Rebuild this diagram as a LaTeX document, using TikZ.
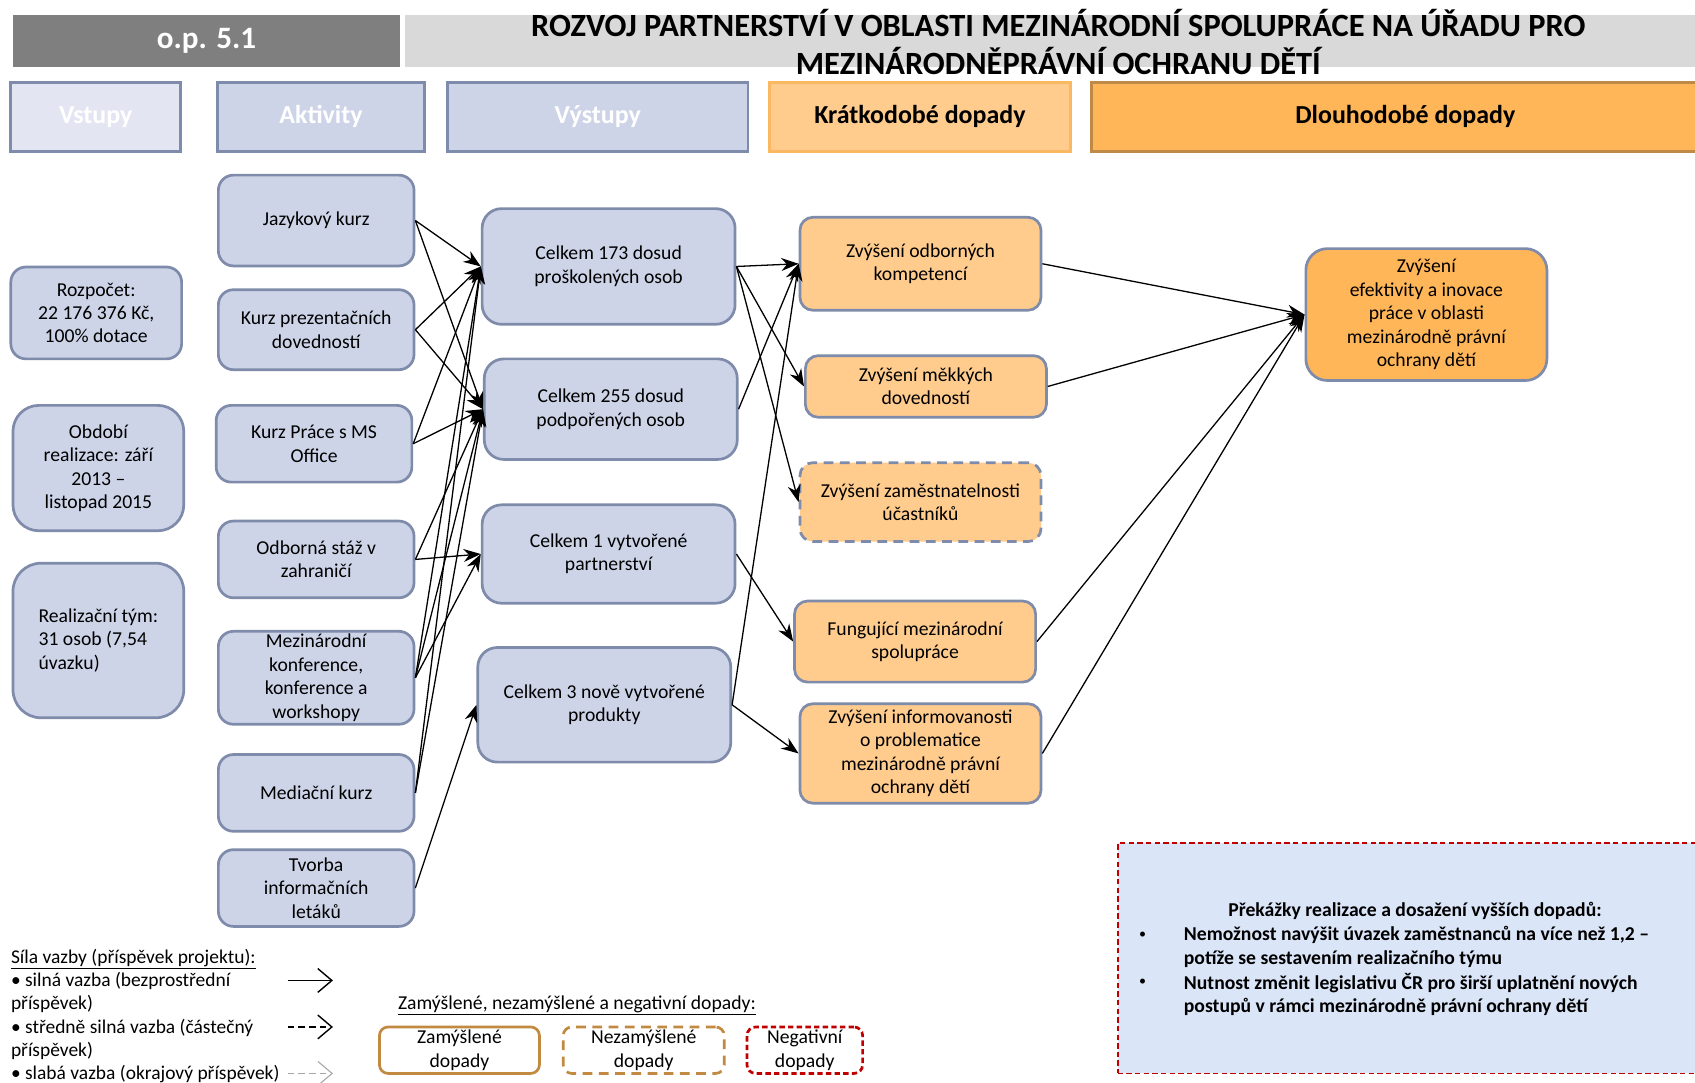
\documentclass[tikz,border=0pt]{standalone}
\usepackage{fontspec}
\setmainfont{Carlito}
\usetikzlibrary{arrows.meta}
\definecolor{lav}{HTML}{CED4E8}
\definecolor{lavlight}{HTML}{E3E6F2}
\definecolor{bordb}{HTML}{7F8BAA}
\definecolor{orl}{HTML}{FFCC8E}
\definecolor{orlb}{HTML}{FBB862}
\definecolor{ord}{HTML}{FFB659}
\definecolor{ordb}{HTML}{BF8A48}
\definecolor{opgray}{HTML}{7F7F7F}
\definecolor{titlegray}{HTML}{D9D9D9}
\definecolor{obfill}{HTML}{DBE5F8}
\definecolor{negred}{HTML}{C00000}
\definecolor{legbrown}{HTML}{C28A40}
\definecolor{weakgray}{HTML}{A6A6A6}
\tikzset{
  txt/.style={font=\fontsize{18.2}{21.7}\selectfont, align=center, inner sep=1pt},
  actbox/.style={txt, draw=bordb, line width=2.5pt, fill=lav, rounded corners=14pt},
  outbox/.style={txt, draw=bordb, line width=2.5pt, fill=lav, rounded corners=18pt},
  stbox/.style={txt, draw=bordb, line width=2.5pt, fill=orl, rounded corners=12pt},
  ltbox/.style={txt, draw=bordb, line width=2.5pt, fill=ord, rounded corners=20pt},
  hdr/.style={font=\fontsize{24}{28}\selectfont\bfseries, line width=2.5pt, inner sep=0pt},
  arr/.style={-{Stealth[length=16pt,width=12pt]}, line width=1.2pt},
  legarr/.style={-{Straight Barb[length=13pt,width=22pt]}, line width=1.3pt},
  legbox/.style={txt, line width=2.5pt, rounded corners=8pt, fill=white},
  obtxt/.style={font=\fontsize{18.2}{22}\selectfont\bfseries, inner sep=0pt, align=left},
  obbul/.style={font=\fontsize{13}{22}\selectfont, inner sep=0pt},
}
\begin{document}
\begin{tikzpicture}[x=1pt,y=-1pt]
\useasboundingbox (0,0) rectangle (1568,1001);
\clip (0,0) rectangle (1568,1001);
\fill[white] (0,0) rectangle (1568,1001);

% top bars
\node[fill=opgray, minimum width=358pt, minimum height=48pt, inner sep=0pt,
      text=white, font=\fontsize{28.8}{32}\selectfont\bfseries] (op) at (191,38) {o.p. 5.1};
\node[fill=titlegray, minimum width=1215pt, minimum height=48pt, inner sep=0pt] (tbar) at (982.5,38) {};
\node[font=\fontsize{30}{35}\selectfont\bfseries, align=center, inner sep=0pt] (title) at (979,38.5)
  {ROZVOJ PARTNERSTVÍ V OBLASTI MEZINÁRODNÍ SPOLUPRÁCE NA ÚŘADU PRO\\MEZINÁRODNĚPRÁVNÍ OCHRANU DĚTÍ};

% column headers
\node[hdr, draw=bordb, fill=lavlight, text=white, minimum width=157pt, minimum height=64pt] (hvst) at (88.5,108) {Vstupy};
\node[hdr, draw=bordb, fill=lav, text=white, minimum width=192pt, minimum height=64pt] (hakt) at (297,108) {Aktivity};
\node[hdr, draw=bordb, fill=lav, text=white, minimum width=278pt, minimum height=64pt] (hvys) at (553,108) {Výstupy};
\node[hdr, draw=orlb, fill=orl, minimum width=278pt, minimum height=64pt] (hkra) at (851,108) {Krátkodobé dopady};
\node[hdr, draw=ordb, fill=ord, minimum width=580pt, minimum height=64pt] (hdlo) at (1300,108) {Dlouhodobé dopady};

% inputs
\node[actbox, minimum width=158pt, minimum height=85pt] (rozp) at (89,289.5) {Rozpočet:\\22 176 376 Kč,\\100\% dotace};
\node[actbox, rounded corners=24pt, minimum width=158pt, minimum height=116pt] (obd) at (91,433) {Období\\realizace: září\\2013 –\\listopad 2015};
\node[actbox, rounded corners=26pt, align=left, minimum width=158pt, minimum height=143pt] (real) at (91,592.5) {Realizační tým:\\31 osob (7,54\\úvazku)};

% activities
\node[actbox, minimum width=181pt, minimum height=84pt] (jaz) at (292.5,204) {Jazykový kurz};
\node[actbox, minimum width=181pt, minimum height=74pt] (prez) at (292.5,305) {Kurz prezentačních\\dovedností};
\node[actbox, minimum width=181pt, minimum height=71pt] (ms) at (290.5,410.5) {Kurz Práce s MS\\Office};
\node[actbox, minimum width=181pt, minimum height=71pt] (staz) at (292.5,517.5) {Odborná stáž v\\zahraničí};
\node[actbox, minimum width=181pt, minimum height=86pt] (konf) at (292.5,627) {Mezinárodní\\konference,\\konference a\\workshopy};
\node[actbox, minimum width=181pt, minimum height=71pt] (med) at (292.5,733.5) {Mediační kurz};
\node[actbox, minimum width=181pt, minimum height=71pt] (tvor) at (292.5,821.5) {Tvorba\\informačních\\letáků};

% outputs
\node[outbox, minimum width=234pt, minimum height=107pt] (o173) at (563,246.5) {Celkem 173 dosud\\proškolených osob};
\node[outbox, minimum width=234pt, minimum height=93pt] (o255) at (565,378.5) {Celkem 255 dosud\\podpořených osob};
\node[outbox, minimum width=234pt, minimum height=91pt] (o1) at (563,512.5) {Celkem 1 vytvořené\\partnerství};
\node[outbox, minimum width=234pt, minimum height=106pt] (o3) at (559,652) {Celkem 3 nově vytvořené\\produkty};

% short-term
\node[stbox, minimum width=223pt, minimum height=86pt] (sodb) at (851.5,244) {Zvýšení odborných\\kompetencí};
\node[stbox, minimum width=223pt, minimum height=57pt] (smek) at (856.5,357.5) {Zvýšení měkkých\\dovedností};
\node[stbox, dashed, dash pattern=on 9pt off 6pt, minimum width=223pt, minimum height=73pt] (szam) at (851.5,464.5) {Zvýšení zaměstnatelnosti\\účastníků};
\node[stbox, minimum width=223pt, minimum height=75pt] (sfun) at (846.5,593.5) {Fungující mezinárodní\\spolupráce};
\node[stbox, minimum width=223pt, minimum height=92pt] (sinf) at (851.5,697) {Zvýšení informovanosti\\o problematice\\mezinárodně právní\\ochrany dětí};

% long-term
\node[ltbox, minimum width=223pt, minimum height=122pt] (lef) at (1319.5,291) {Zvýšení\\efektivity a inovace\\práce v oblasti\\mezinárodně právní\\ochrany dětí};

% arrows activities -> outputs
\foreach \s/\t in {jaz/o173, jaz/o255, prez/o173, prez/o255, ms/o173, ms/o255,
                   staz/o255, staz/o1, konf/o173, konf/o255, konf/o1,
                   med/o173, med/o255, tvor/o3}
  \draw[arr] (\s.east) -- (\t.west);
% outputs -> short-term
\foreach \s/\t in {o173/sodb, o173/smek, o173/szam, o255/sodb, o1/sfun, o3/sodb, o3/sinf}
  \draw[arr] (\s.east) -- (\t.west);
% short-term -> long-term
\foreach \s in {sodb, smek, sfun, sinf}
  \draw[arr] (\s.east) -- (lef.west);

% obstacles box
\node[draw=negred, dashed, dash pattern=on 5pt off 3pt, line width=1.5pt, fill=obfill,
      minimum width=545pt, minimum height=213pt, inner sep=0pt] (obox) at (1306.5,886.5) {};
\node[obtxt, align=center] (obt) at (1309,843) {Překážky realizace a dosažení vyšších dopadů:};
\node[obbul] (ob1b) at (1057,865) {•};
\node[obtxt, anchor=west] (ob1) at (1095,876) {Nemožnost navýšit úvazek zaměstnanců na více než 1,2 –\\potíže se sestavením realizačního týmu};
\node[obbul] (ob2b) at (1057,909) {•};
\node[obtxt, anchor=west] (ob2) at (1095,920) {Nutnost změnit legislativu ČR pro širší uplatnění nových\\postupů v rámci mezinárodně právní ochrany dětí};

% legend: link strength
\node[font=\fontsize{18}{21.6}\selectfont, align=left, inner sep=0pt, anchor=west] (sila) at (10,940)
  {\underline{Síla vazby (příspěvek projektu):}\\• silná vazba (bezprostřední\\příspěvek)\\• středně silná vazba (částečný\\příspěvek)\\• slabá vazba (okrajový příspěvek)};
\coordinate (l1s) at (266,907); \coordinate (l1e) at (308,907);
\coordinate (l2s) at (266,950); \coordinate (l2e) at (308,950);
\coordinate (l3s) at (266,993); \coordinate (l3e) at (308,993);
\draw[legarr] (l1s) -- (l1e);
\draw[legarr, dash pattern=on 6pt off 4pt] (l2s) -- (l2e);
\draw[legarr, draw=weakgray, line width=1pt, dash pattern=on 6pt off 4pt] (l3s) -- (l3e);

% legend: impacts
\node[font=\fontsize{18.2}{20}\selectfont, inner sep=0pt, anchor=west] (imptitle) at (368,930)
  {\underline{Zamýšlené, nezamýšlené a negativní dopady:}};
\node[legbox, draw=legbrown, minimum width=148pt, minimum height=43pt] (zam) at (425,971.5) {Zamýšlené\\dopady};
\node[legbox, draw=legbrown, dash pattern=on 9pt off 6pt, minimum width=149pt, minimum height=43pt] (nez) at (595.5,971.5) {Nezamýšlené\\dopady};
\node[legbox, draw=negred, dash pattern=on 5pt off 3pt, minimum width=107pt, minimum height=43pt] (neg) at (744.5,971.5) {Negativní\\dopady};
\end{tikzpicture}
\end{document}
